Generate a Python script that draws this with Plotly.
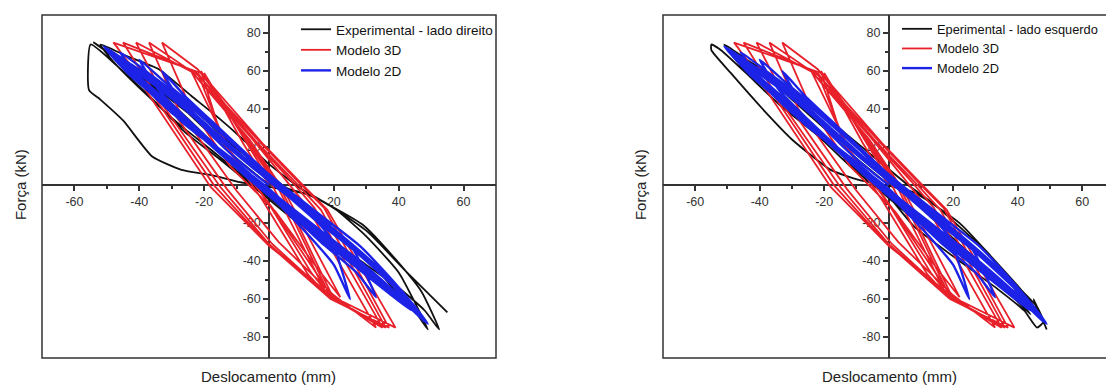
import plotly.graph_objects as go

# ---------------- data ----------------
# Modelo 3D (same in both panels)
red_x = [0, -8, -20, -9, 1, 18, 12, -2, -14,
         -21, -8, 3, 19, 13, 0, -13,
         -22, -7, 4, 20, 14, 1, -12,
         -24, -6, 5, 22, 15, 2, -12, -24,
         -33, -22, -6, 5, 12, 33, 20, 3, -10, -28,
         -37, -24, -5, 7, 14, 35, 19, 1, -13, -31,
         -41, -22, -4, 9, 16, 36, 18, 0, -15, -34,
         -45, -23, -3, 10, 17, 37, 19, -1, -17, -36,
         -48, -21, -2, 11, 18, 39, 20, 0, -18, -38, -47]
red_y = [0, 22, 59, 28, 0, -58, -47, -8, 22,
         60, 26, -2, -59, -46, -10, 20,
         59, 25, -3, -60, -45, -12, 18,
         60, 24, -4, -59, -44, -14, 10, 40,
         75, 61, 26, 3, -12, -75, -58, -30, -3, 40,
         75, 60, 24, 2, -12, -75, -59, -31, -2, 42,
         75, 58, 23, 0, -13, -75, -58, -31, -1, 45,
         75, 60, 23, 0, -12, -75, -60, -30, 0, 48,
         75, 59, 22, -1, -13, -75, -59, -32, -1, 50, 73]

# Modelo 2D (same in both panels)
blue_x = [0, -6, -14, -22, -28, -33, -26, -16, -6, 4, 12, 19, 25, 20, 12, 3, -6, -16, -26, -34,
          -40, -32, -22, -12, -2, 8, 18, 26, 33, 27, 16, 6, -4, -14, -26, -37,
          -46, -38, -27, -16, -5, 6, 16, 26, 36, 44, 37, 26, 14, 3, -8, -20, -32, -43,
          -51, -43, -32, -20, -8, 4, 16, 28, 38, 45, 49, 43, 32, 20, 8, -4, -16, -28, -40, -50,
          -42, -30, -18, -6, 6, 18, 30, 40, 48, 42, 30, 18, 6, -6,
          -18, -30, -42, -49, -40, -28, -16, -4, 8, 20, 32, 42, 47, 40, 28, 16, 4, -8,
          -20, -32, -44, -48, -38, -26, -14, -2, 10, 22, 34, 44, 46, 36, 24, 12, 0, -12,
          -24, -30, -40, -47, -36, -24, -12, 0, 12, 24, 36, 45, 38, 26, 14, 2, -10, -22,
          -34, -45, -34, -22, -10, 2, 14, 26, 38, 43]
blue_y = [0, 8, 20, 34, 46, 60, 47, 31, 15, -1, -14, -28, -60, -42, -26, -10, 4, 20, 36, 50,
          66, 54, 40, 24, 8, -6, -20, -34, -59, -46, -30, -14, 0, 16, 32, 50,
          70, 60, 46, 30, 12, -4, -18, -32, -48, -66, -57, -42, -26, -9, 6, 24, 42, 58,
          73, 64, 52, 35, 17, 0, -16, -32, -50, -64, -73, -64, -49, -33, -17, 0, 18, 36, 55, 71,
          62, 48, 30, 12, -4, -22, -40, -56, -72, -62, -44, -28, -12, 4,
          22, 40, 58, 70, 60, 44, 27, 9, -8, -24, -42, -60, -70, -58, -40, -24, -8, 8,
          26, 44, 62, 68, 56, 40, 22, 5, -10, -26, -44, -62, -66, -52, -36, -20, -2, 14,
          30, 38, 54, 66, 54, 38, 20, 2, -14, -30, -48, -66, -56, -40, -24, -6, 12, 28,
          48, 64, 51, 35, 17, 0, -18, -34, -52, -62]

# Experimental - lado direito (left panel)
exp_dir_x = [0, -10, -20, -30, -40, -32, -22, -12, 0, 12, 24, 34, 40, 34, 24, 14, 4, -6, -16, -27,
             -38, -48, -52, -44, -34, -24, -16, -8, 0, 10, 20, 30, 40, 49, 44, 36, 26, 16, 6, -4,
             -14, -26, -37, -47, -55, -55.5, -52, -45, -36, -27, -17, -9, 0, 12, 29, 39, 47, 52.5,
             48, 40, 30, 20, 10, 0, -10, -22, -36, -48, -54, -50, -40, -28, -16, -4, 6, 14, 30, 42, 55]
exp_dir_y = [0, 14, 30, 46, 62, 52, 38, 22, 6, -12, -30, -46, -58, -50, -38, -26, -12, 2, 16, 31,
             48, 65, 74, 68, 61, 47, 36, 24, 11, -2, -12, -27, -46, -76, -64, -52, -40, -28, -16, -2,
             12, 28, 47, 63, 74, 50, 45, 34, 15, 8, 5, 1.5, -1, -5, -21, -39, -56, -76,
             -66, -54, -42, -30, -17, -4, 10, 30, 52, 68, 75, 70, 58, 42, 26, 9, -2, -6, -24, -45, -67]

# Eperimental - lado esquerdo (right panel)
exp_esq_x = [0, -10, -20, -30, -38, -44, -40, -30, -20, -10, 0, 10, 20, 30, 40, 44, 38, 28, 18, 8,
             -2, -12, -22, -33, -43, -51, -44, -34, -24, -14, -4, 6, 14, 22, 32, 41, 46, 48, 46, 42,
             34, 22, 8, 0, -10, -22, -33, -43, -52, -55, -55, -49, -38, -30, -18, -9, -1, 8, 22, 32,
             41, 47.5, 49, 45, 46, 38, 28, 16, 6, -4, -14]
exp_esq_y = [0, 14, 30, 45, 58, 66, 60, 46, 32, 16, 2, -12, -28, -44, -60, -68, -58, -44, -30, -18,
             -4, 10, 26, 41, 57, 74, 66, 55, 42, 28, 14, 0, -10, -22, -38, -55, -64, -72, -75, -66,
             -55, -40, -22, -6, 10, 28, 41, 57, 71, 74, 71, 59, 38, 24, 8, 2.6, 0, -4, -20, -38,
             -55, -70, -76, -60, -67, -56, -44, -28, -14, 0, 14]

x_ticks = [-60, -40, -20, 20, 40, 60]
x_minor = [-50, -30, -10, 10, 30, 50]
y_ticks = [-80, -60, -40, -20, 20, 40, 60, 80]
y_minor = [-70, -50, -30, -10, 10, 30, 50, 70]

legend_names_left = ["Experimental - lado direito", "Modelo 3D", "Modelo 2D"]
legend_names_right = ["Eperimental - lado esquerdo", "Modelo 3D", "Modelo 2D"]
x_title = "Deslocamento (mm)"
y_title = "Força (kN)"

# ---------------- styling ----------------
W, H = 1106, 385
FONT = "Arial, Liberation Sans, sans-serif"
C_BLACK, C_RED, C_BLUE = "#111111", "#e8202a", "#1c22e6"
AX = "#333333"
LW = 1.8

y_dom = [27 / H, 370 / H]
x_dom_l = [42 / W, 496 / W]
x_dom_r = [663 / W, 1.0]
x_rng_l = [-70, 70]
x_rng_r = [-70, 67.4]
y_rng = [-91, 89.5]

y0_paper = y_dom[0] + (0 - y_rng[0]) / (y_rng[1] - y_rng[0]) * (y_dom[1] - y_dom[0])
x0_paper_l = x_dom_l[0] + (0 - x_rng_l[0]) / (x_rng_l[1] - x_rng_l[0]) * (x_dom_l[1] - x_dom_l[0])
x0_paper_r = x_dom_r[0] + (0 - x_rng_r[0]) / (x_rng_r[1] - x_rng_r[0]) * (x_dom_r[1] - x_dom_r[0])

fig = go.Figure()

panels = [
    ("x", "y", "legend", exp_dir_x, exp_dir_y, legend_names_left),
    ("x2", "y2", "legend2", exp_esq_x, exp_esq_y, legend_names_right),
]
for xa, ya, lg, ex, ey, names in panels:
    fig.add_trace(go.Scatter(x=ex, y=ey, mode="lines", name=names[0], xaxis=xa, yaxis=ya,
                             legend=lg, line=dict(color=C_BLACK, width=LW, shape="spline",
                                                  smoothing=0.5)))
    fig.add_trace(go.Scatter(x=red_x, y=red_y, mode="lines", name=names[1], xaxis=xa, yaxis=ya,
                             legend=lg, line=dict(color=C_RED, width=LW)))
    fig.add_trace(go.Scatter(x=blue_x, y=blue_y, mode="lines", name=names[2], xaxis=xa, yaxis=ya,
                             legend=lg, line=dict(color=C_BLUE, width=2.4, shape="spline",
                                                  smoothing=0.5)))


def xaxis(dom, rng):
    return dict(domain=dom, range=rng, anchor="free", position=y0_paper,
                showline=True, linecolor=AX, linewidth=1.5, zeroline=False, showgrid=False,
                tickmode="array", tickvals=x_ticks, ticktext=[str(v) for v in x_ticks],
                ticks="outside", ticklen=5, tickwidth=1.5, tickcolor=AX,
                minor=dict(tickmode="array", tickvals=x_minor, ticks="outside", ticklen=3,
                           tickwidth=1.5, tickcolor=AX, showgrid=False),
                tickfont=dict(family=FONT, size=12.5, color="#333"), layer="below traces",
                fixedrange=True)


def yaxis(pos):
    return dict(domain=y_dom, range=y_rng, anchor="free", position=pos,
                showline=True, linecolor=AX, linewidth=1.5, zeroline=False, showgrid=False,
                tickmode="array", tickvals=y_ticks, ticktext=[str(v) for v in y_ticks],
                ticks="outside", ticklen=5, tickwidth=1.5, tickcolor=AX,
                minor=dict(tickmode="array", tickvals=y_minor, ticks="outside", ticklen=3,
                           tickwidth=1.5, tickcolor=AX, showgrid=False),
                tickfont=dict(family=FONT, size=12.5, color="#333"), layer="below traces",
                fixedrange=True)


legend_common = dict(bgcolor="rgba(0,0,0,0)", borderwidth=0, xanchor="left", yanchor="top",
                     itemwidth=30, tracegroupgap=0, traceorder="normal")

fig.update_layout(
    width=W, height=H, margin=dict(l=0, r=0, t=0, b=0, autoexpand=False),
    paper_bgcolor="white", plot_bgcolor="white",
    xaxis=xaxis(x_dom_l, x_rng_l), yaxis=yaxis(x0_paper_l),
    xaxis2=xaxis(x_dom_r, x_rng_r), yaxis2=yaxis(x0_paper_r),
    legend=dict(x=296 / W, y=1 - 14 / H, font=dict(family=FONT, size=13.5, color="#111"),
                **legend_common),
    legend2=dict(x=897 / W, y=1 - 14 / H, font=dict(family=FONT, size=12.8, color="#111"),
                 **legend_common),
    shapes=[
        dict(type="rect", xref="x domain", yref="y domain", x0=0, x1=1, y0=0, y1=1,
             line=dict(color=AX, width=1.5), layer="above"),
        dict(type="rect", xref="x2 domain", yref="y2 domain", x0=0, x1=1.02, y0=0, y1=1,
             line=dict(color=AX, width=1.5), layer="above"),
    ],
    annotations=[
        dict(text=y_title, xref="paper", yref="paper", x=20 / W, y=y0_paper, textangle=-90,
             showarrow=False, font=dict(family=FONT, size=15, color="#222"),
             xanchor="center", yanchor="middle"),
        dict(text=y_title, xref="paper", yref="paper", x=640 / W, y=y0_paper, textangle=-90,
             showarrow=False, font=dict(family=FONT, size=15, color="#222"),
             xanchor="center", yanchor="middle"),
        dict(text=x_title, xref="paper", yref="paper", x=268 / W, y=1 - 376 / H,
             showarrow=False, font=dict(family=FONT, size=15, color="#222"),
             xanchor="center", yanchor="middle"),
        dict(text=x_title, xref="paper", yref="paper", x=889 / W, y=1 - 376 / H,
             showarrow=False, font=dict(family=FONT, size=15, color="#222"),
             xanchor="center", yanchor="middle"),
    ],
    showlegend=True,
)

fig.write_html("out.html", config={"displayModeBar": False},
               post_script="document.body.style.margin='0';document.body.style.overflow='hidden';")
